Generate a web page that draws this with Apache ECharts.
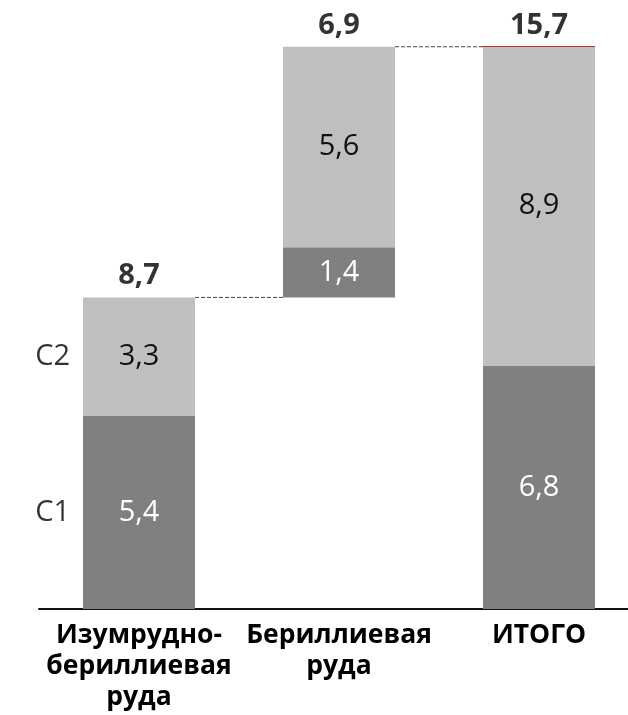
<!DOCTYPE html>
<html>
<head>
<meta charset="utf-8">
<script src="https://cdn.jsdelivr.net/npm/echarts@6/dist/echarts.min.js"></script>
<style>
  html, body { margin: 0; padding: 0; background: #fff; }
  #chart { width: 628px; height: 715px; }
</style>
</head>
<body>
<div id="chart"></div>
<script>
// Reserves by ore type (waterfall layout), categories C1 and C2
const categories = ['Изумрудно-\nбериллиевая\nруда', 'Бериллиевая\nруда', 'ИТОГО'];
const baseOffset = [0, 8.7, 0];        // invisible lift for the floating bar
const valuesC1 = [5.4, 1.4, 6.8];
const valuesC2 = [3.3, 5.6, 8.9];
const totals = [8.7, 6.9, 15.7];
const seriesNames = ['C1', 'C2'];

const FONT = '"Open Sans", "DejaVu Sans", sans-serif';
const BAR_RATIO = 0.56;
const fmt = v => String(v).replace('.', ',');

// top edge of each bar on the value scale
const tops = categories.map((_, i) => +(baseOffset[i] + valuesC1[i] + valuesC2[i]).toFixed(2));

const chart = echarts.init(document.getElementById('chart'), null, { renderer: 'canvas' });

chart.setOption({
  animation: false,
  backgroundColor: '#ffffff',
  grid: { left: 39, width: 600, top: 36, bottom: 106, containLabel: false, outerBoundsMode: 'none' },
  xAxis: {
    type: 'category',
    data: categories,
    axisTick: { show: false },
    axisLine: { lineStyle: { color: '#111', width: 2 } },
    axisLabel: {
      color: '#000', fontFamily: FONT, fontWeight: 'bold',
      fontSize: 26.5, lineHeight: 31, margin: 11, interval: 0, hideOverlap: false
    }
  },
  yAxis: { type: 'value', min: 0, max: 16, show: false, splitLine: { show: false } },
  series: [
    {
      type: 'bar', stack: 'w', barWidth: (BAR_RATIO * 100) + '%',
      itemStyle: { color: 'transparent' },
      data: baseOffset, silent: true
    },
    {
      name: seriesNames[0], type: 'bar', stack: 'w',
      itemStyle: { color: '#808080' },
      label: {
        show: true, position: 'inside', color: '#fff',
        fontFamily: FONT, fontSize: 29, formatter: p => fmt(p.value)
      },
      data: valuesC1
    },
    {
      name: seriesNames[1], type: 'bar', stack: 'w',
      itemStyle: { color: '#bfbfbf' },
      label: {
        show: true, position: 'inside', color: '#111',
        fontFamily: FONT, fontSize: 29, formatter: p => fmt(p.value)
      },
      data: valuesC2
    },
    // totals above each bar
    {
      type: 'scatter', symbolSize: 0, silent: true,
      data: tops.map((t, i) => ({ value: [i, t], total: totals[i] })),
      label: {
        show: true, position: 'top', distance: 7, color: '#000',
        fontFamily: FONT, fontSize: 29, fontWeight: 'bold',
        formatter: p => fmt(p.data.total)
      }
    },
    // series names beside the first bar segments
    {
      type: 'scatter', symbolSize: 0, silent: true,
      data: [
        { name: seriesNames[0], value: [0, valuesC1[0] / 2] },
        { name: seriesNames[1], value: [0, valuesC1[0] + valuesC2[0] / 2] }
      ],
      label: {
        show: true, position: 'left', distance: 69, color: '#000',
        fontFamily: FONT, fontSize: 29, formatter: p => p.name
      }
    },
    // dashed connectors between bars and the red total marker
    {
      type: 'custom', silent: true,
      data: categories.map((_, i) => [i, tops[i]]),
      renderItem: (params, api) => {
        const i = api.value(0);
        const half = api.size([1, 0])[0] * BAR_RATIO / 2;
        const p = api.coord([i, api.value(1)]);
        const children = [];
        if (i < categories.length - 1) {
          const q = api.coord([i + 1, api.value(1)]);
          children.push({
            type: 'line',
            shape: { x1: p[0] + half, y1: p[1], x2: q[0] - half, y2: p[1] },
            style: { stroke: '#444', lineWidth: 1, lineDash: [4, 2] }
          });
        } else {
          children.push({
            type: 'line',
            shape: { x1: p[0] - half, y1: p[1], x2: p[0] + half, y2: p[1] },
            style: { stroke: '#c00000', lineWidth: 1.5 }
          });
        }
        return { type: 'group', children };
      }
    }
  ]
});
</script>
</body>
</html>
